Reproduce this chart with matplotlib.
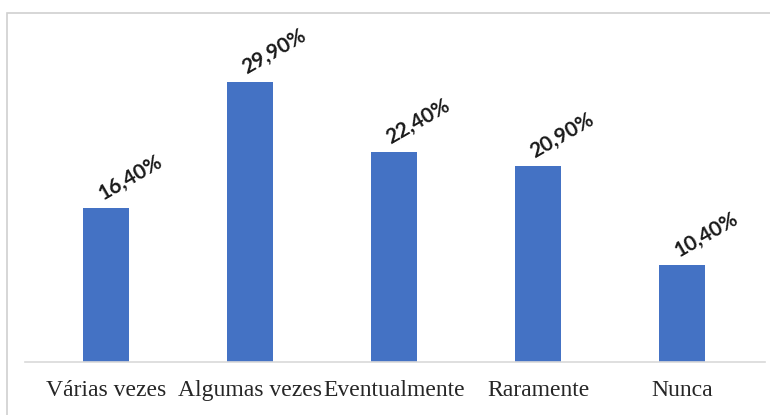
import matplotlib.pyplot as plt
from matplotlib.patches import Rectangle

# Response frequency per category (%)
categorias = ["Várias vezes", "Algumas vezes", "Eventualmente", "Raramente", "Nunca"]
percentuais = [16.4, 29.9, 22.4, 20.9, 10.4]
rotulos = ["16,40%", "29,90%", "22,40%", "20,90%", "10,40%"]

fig = plt.figure(figsize=(7.7, 4.15), dpi=100)

# Light grey frame around the chart area
fig.patches.append(Rectangle((7 / 770, -0.01), 1.0, (415 - 13) / 415 + 0.01,
                             transform=fig.transFigure, fill=False,
                             edgecolor="#D0D0D0", linewidth=1.2))

ax = fig.add_axes([25 / 770, 53 / 415, 740 / 770, (362 - 13) / 415])
posicoes = range(len(categorias))
ax.bar(posicoes, percentuais, width=0.32, color="#4472C4")

ax.set_xlim(-0.5625, 4.576)
ax.set_ylim(0, 37.27)

# Rotated value labels above each bar
for x, v, txt in zip(posicoes, percentuais, rotulos):
    ax.annotate(txt, (x, v), xytext=(-1, 3), textcoords="offset points",
                rotation=30, rotation_mode="anchor", ha="left", va="bottom",
                fontsize=15, fontweight="bold", color="#1A1A1A",
                family=["Lato", "DejaVu Sans"])

ax.set_xticks(list(posicoes))
ax.set_xticklabels(categorias, fontsize=17, family="Liberation Serif", color="#262626")
ax.tick_params(axis="x", length=0, pad=13)
ax.set_yticks([])
for s in ["top", "right", "left"]:
    ax.spines[s].set_visible(False)
ax.spines["bottom"].set_color("#D9D9D9")
ax.spines["bottom"].set_linewidth(1.2)

fig.savefig("out.png", dpi=100)
